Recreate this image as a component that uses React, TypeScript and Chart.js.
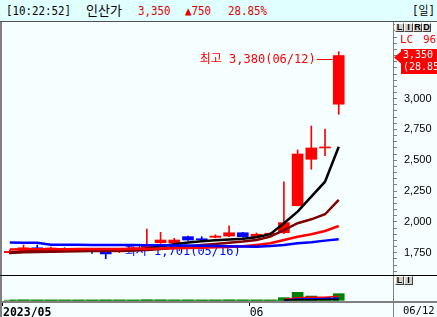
import React, { useEffect, useRef } from 'react';
import { Chart, registerables } from 'chart.js';

Chart.register(...registerables);

const timeLabel = '[10:22:52]';
const stockName = '인산가';
const periodLabel = '[일]';

const dates = ['05/04', '05/08', '05/09', '05/10', '05/11', '05/12', '05/15', '05/16', '05/17', '05/18', '05/19', '05/22', '05/23', '05/24', '05/25', '05/26', '05/30', '05/31', '06/01', '06/02', '06/05', '06/07', '06/08', '06/09', '06/12'];
const opens = [1750, 1760, 1790, 1780, 1785, 1775, 1770, 1760, 1757, 1780, 1790, 1831, 1831, 1880, 1860, 1875, 1885, 1912, 1882, 1900, 1912, 2131, 2508, 2600, 2955];
const highs = [1770, 1812, 1812, 1795, 1790, 1785, 1780, 1765, 1785, 1800, 1942, 1915, 1867, 1885, 1880, 1895, 1969, 1915, 1910, 1912, 2326, 2584, 2778, 2754, 3380];
const lows = [1740, 1755, 1770, 1770, 1765, 1760, 1745, 1701, 1750, 1770, 1785, 1825, 1825, 1850, 1845, 1870, 1880, 1875, 1875, 1895, 1905, 2130, 2427, 2537, 2873];
const closes = [1760, 1790, 1780, 1785, 1775, 1770, 1760, 1740, 1779, 1790, 1810, 1853, 1853, 1853, 1855, 1885, 1912, 1880, 1900, 1905, 1994, 2551, 2600, 2600, 3350];

const ma5 = [1748, 1758, 1766, 1772, 1776, 1778, 1775, 1767, 1766, 1770, 1785, 1802, 1818, 1833, 1843, 1851, 1857, 1863, 1875, 1900, 1989, 2083, 2205, 2326, 2610];
const ma10 = [1752, 1754, 1756, 1758, 1760, 1762, 1763, 1764, 1765, 1767, 1772, 1780, 1790, 1800, 1812, 1820, 1830, 1840, 1853, 1880, 1934, 1989, 2021, 2062, 2178];
const ma20 = [1776, 1777, 1777, 1778, 1778, 1779, 1779, 1780, 1780, 1781, 1783, 1785, 1787, 1789, 1791, 1794, 1797, 1802, 1813, 1826, 1853, 1880, 1899, 1926, 1967];
const ma60 = [1832, 1831, 1830, 1815, 1814, 1814, 1813, 1813, 1812, 1812, 1811, 1810, 1809, 1808, 1806, 1804, 1802, 1800, 1799, 1804, 1813, 1826, 1834, 1848, 1859];

const volumes = [40000, 90000, 60000, 45000, 40000, 35000, 45000, 80000, 55000, 45000, 160000, 120000, 60000, 70000, 45000, 55000, 120000, 70000, 60000, 50000, 1050000, 3200000, 1700000, 1200000, 2650000];
const volMaLong = [60000, 60000, 60000, 60000, 60000, 60000, 60000, 60000, 60000, 60000, 60000, 60000, 60000, 60000, 60000, 60000, 60000, 60000, 60000, 60000, 60000, 60000, 60000, 60000, 60000];
const volMa5 = [null, null, null, null, null, null, null, null, null, null, null, null, null, null, null, null, null, null, null, null, 280000, 1050000, 1200000, 1250000, 1600000];
const volMa20 = [null, null, null, null, null, null, null, null, null, null, null, null, null, null, null, null, null, null, null, null, 150000, 560000, 640000, 690000, 780000];
const volMa60 = [null, null, null, null, null, null, null, null, null, null, null, null, null, null, null, null, null, null, null, null, 80000, 220000, 260000, 280000, 320000];

const xAxisLabels = ['2023/05', '06'];
const monthStartIndex = [0, 18];
const priceLabelTicks = [1750, 2000, 2250, 2500, 2750, 3000];
const priceMinorStep = 50;
const lcLabel = 'LC';
const lcValue = '96';

const MONO = "'DejaVu Sans Mono', 'Noto Sans CJK KR', monospace";
const SANS = "'Liberation Sans', Arial, sans-serif";
const RED = '#ff0000';
const BLUE = '#0000ff';

const fmt = (n: number) => n.toLocaleString('en-US');

export default function App() {
  const canvasRef = useRef<HTMLCanvasElement | null>(null);
  const last = closes.length - 1;
  const change = closes[last] - closes[last - 1];
  const pct = (change / closes[last - 1]) * 100;

  useEffect(() => {
    const canvas = canvasRef.current;
    if (!canvas) return;
    const idx = dates.map((_, i) => i);
    const cColor = idx.map((i) => (closes[i] >= opens[i] ? RED : BLUE));
    const hiIdx = highs.indexOf(Math.max(...highs));
    const loIdx = lows.indexOf(Math.min(...lows));

    const zeroPad = (s: any) => {
      s.paddingTop = 0;
      s.paddingBottom = 0;
      s.paddingLeft = 0;
      s.paddingRight = 0;
    };

    const framePlugin = {
      id: 'frame',
      beforeDatasetsDraw(chart: any) {
        const { ctx, scales } = chart;
        const x = scales.x;
        const y = scales.y;
        ctx.save();
        ctx.font = `12px ${MONO}`;
        ctx.textBaseline = 'middle';
        const lx = x.getPixelForValue(loIdx) + 1;
        const ly = Math.round(y.getPixelForValue(lows[loIdx]) - 8) + 0.5;
        ctx.strokeStyle = BLUE;
        ctx.lineWidth = 1;
        ctx.beginPath();
        ctx.moveTo(lx, ly);
        ctx.lineTo(lx + 16, ly);
        ctx.stroke();
        ctx.fillStyle = BLUE;
        ctx.textAlign = 'left';
        ctx.fillText(`최저 ${fmt(lows[loIdx])}(${dates[loIdx]})`, lx + 18, ly);
        ctx.restore();
      },
      afterDatasetsDraw(chart: any) {
        const { ctx, scales } = chart;
        const x = scales.x;
        const y = scales.y;
        ctx.save();
        ctx.font = `12px ${MONO}`;
        ctx.textBaseline = 'middle';
        const hx = x.getPixelForValue(hiIdx) - 6;
        const hy = Math.round(y.getPixelForValue(highs[hiIdx]) + 7) + 0.5;
        ctx.strokeStyle = RED;
        ctx.lineWidth = 1;
        ctx.beginPath();
        ctx.moveTo(hx - 16, hy);
        ctx.lineTo(hx, hy);
        ctx.stroke();
        ctx.fillStyle = RED;
        ctx.textAlign = 'right';
        ctx.fillText(`최고 ${fmt(highs[hiIdx])}(${dates[hiIdx]})`, hx - 17, hy);
        ctx.restore();
      },
      afterDraw(chart: any) {
        const { ctx, chartArea, scales, width, height } = chart;
        const y = scales.y;
        const x = scales.x;
        ctx.save();
        ctx.fillStyle = '#808080';
        ctx.fillRect(0, 0, 2, height);
        ctx.fillRect(Math.round(chartArea.right), 0, 1, height);
        ctx.fillRect(0, Math.round(x.top) - 1, width, 2);
        ctx.fillStyle = '#000000';
        ctx.fillRect(0, Math.round(y.bottom), width, 1);
        const py = y.getPixelForValue(closes[last]);
        const r = chartArea.right + 1;
        ctx.fillStyle = RED;
        ctx.beginPath();
        ctx.moveTo(r, py + 2);
        ctx.lineTo(r + 7, py - 4);
        ctx.lineTo(r + 7, py + 8);
        ctx.closePath();
        ctx.fill();
        ctx.fillRect(r + 7, Math.round(py - 7), width - r - 7, 25);
        ctx.fillStyle = '#ffffff';
        ctx.font = `10px ${MONO}`;
        ctx.textAlign = 'left';
        ctx.textBaseline = 'middle';
        ctx.fillText(fmt(closes[last]), r + 9, py);
        ctx.fillText(`(${pct.toFixed(2)}%)`, r + 9, py + 12);
        ctx.restore();
      },
    };

    const lineDs = (data: any[], color: string, width: number, axis: string, order: number) => ({
      type: 'line' as const,
      data: data.map((v, i) => ({ x: i, y: v })),
      borderColor: color,
      borderWidth: width,
      pointRadius: 0,
      yAxisID: axis,
      order,
      spanGaps: false,
    });

    const chart = new Chart(canvas, {
      type: 'bar',
      data: {
        datasets: [
          lineDs(ma60, '#0000ff', 2.5, 'y', 0),
          lineDs(ma20, '#ff0000', 2.5, 'y', 1),
          lineDs(ma10, '#800000', 2.5, 'y', 2),
          lineDs(ma5, '#000000', 2.5, 'y', 3),
          {
            type: 'bar',
            data: idx.map((i) => ({ x: i, y: [opens[i], closes[i]] })),
            backgroundColor: cColor,
            barThickness: 11,
            minBarLength: 1,
            grouped: false,
            yAxisID: 'y',
            order: 5,
          },
          {
            type: 'bar',
            data: idx.map((i) => ({ x: i, y: [lows[i], highs[i]] })),
            backgroundColor: cColor,
            barThickness: 1,
            grouped: false,
            yAxisID: 'y',
            order: 6,
          },
          lineDs(volMa60, '#000000', 1.5, 'v', 2),
          lineDs(volMa20, '#0000ff', 1.5, 'v', 3),
          lineDs(volMa5, '#ff0000', 1.5, 'v', 3),
          {
            type: 'bar',
            data: idx.map((i) => ({ x: i, y: volumes[i] })),
            backgroundColor: '#008000',
            barThickness: 11,
            grouped: false,
            yAxisID: 'v',
            order: 7,
          },
          lineDs(volMaLong, '#008000', 1, 'v', 8),
        ] as any,
      },
      options: {
        responsive: false,
        animation: false,
        events: [],
        layout: { padding: { left: 2, right: 0, top: 0, bottom: 0 } },
        plugins: { legend: { display: false }, tooltip: { enabled: false } },
        scales: {
          x: {
            type: 'linear',
            position: 'bottom',
            offset: false,
            min: -0.57,
            max: 27.96,
            afterBuildTicks: (s: any) => {
              s.ticks = monthStartIndex.map((i) => ({ value: i - 0.5 }));
            },
            afterFit: (s: any) => {
              s.height = 15;
              zeroPad(s);
            },
            ticks: {
              autoSkip: false,
              maxRotation: 0,
              align: 'start',
              padding: 0,
              color: '#000000',
              font: (c: any) => ({ family: MONO, size: 11.5, weight: c.index === 0 ? 'bold' : 'normal' }),
              callback: (_v: any, i: number) => xAxisLabels[i],
            },
            grid: { drawOnChartArea: false, drawTicks: true, tickLength: 4, color: '#000000', offset: false },
            border: { display: false },
          },
          y: {
            type: 'linear',
            position: 'right',
            stack: 'main',
            stackWeight: 253,
            min: 1569,
            max: 3622,
            afterBuildTicks: (s: any) => {
              const t: any[] = [];
              for (let v = 1600; v <= 3600; v += priceMinorStep) t.push({ value: v });
              s.ticks = t;
            },
            afterFit: (s: any) => {
              s.width = 44;
              zeroPad(s);
            },
            ticks: {
              autoSkip: false,
              padding: 7,
              color: '#000000',
              font: { family: SANS, size: 11 },
              callback: (v: any) => (priceLabelTicks.includes(v) ? fmt(v) : ''),
            },
            grid: { drawOnChartArea: false, drawTicks: true, tickLength: 4, color: '#808080' },
            border: { display: false },
          },
          v: {
            type: 'linear',
            position: 'right',
            stack: 'main',
            stackWeight: 27,
            min: -680000,
            max: 10120000,
            afterFit: (s: any) => {
              s.width = 44;
              zeroPad(s);
            },
            ticks: { display: false },
            grid: { display: false },
            border: { display: false },
          },
        },
      } as any,
      plugins: [framePlugin],
    });
    return () => chart.destroy();
  }, []);

  const hs = (left: number, color: string): React.CSSProperties => ({
    position: 'absolute',
    left,
    top: 4,
    fontFamily: MONO,
    fontSize: 12,
    lineHeight: '15px',
    color,
    whiteSpace: 'nowrap',
    transform: 'scaleX(0.9)',
    transformOrigin: 'left',
  });

  const btn: React.CSSProperties = {
    boxSizing: 'border-box',
    width: 9,
    height: 9,
    background: '#d4d0c8',
    borderTop: '1px solid #ffffff',
    borderLeft: '1px solid #ffffff',
    borderRight: '1px solid #404040',
    borderBottom: '1px solid #404040',
    fontFamily: SANS,
    fontWeight: 'bold',
    fontSize: 9,
    lineHeight: '7px',
    textAlign: 'center',
    color: '#000',
    overflow: 'hidden',
  };

  return (
    <div style={{ position: 'fixed', left: 0, top: 0, width: 437, height: 317, background: '#f5ffff', overflow: 'hidden' }}>
      <div style={{ position: 'absolute', left: 0, top: 0, width: 437, height: 21, background: '#e0ffff', borderBottom: '1px solid #505050' }}>
        <span style={hs(6, '#000')}>{timeLabel}</span>
        <span style={{ ...hs(86, '#000'), fontSize: 13, transform: 'none', top: 3 }}>{stockName}</span>
        <span style={hs(138, '#e00000')}>{fmt(closes[last])}</span>
        <span style={hs(185, '#e00000')}>{'▲' + fmt(change)}</span>
        <span style={hs(228, '#e00000')}>{pct.toFixed(2) + '%'}</span>
        <span style={hs(412, '#000')}>{periodLabel}</span>
      </div>
      <div style={{ position: 'absolute', left: 0, top: 22, width: 437, height: 295 }}>
        <canvas ref={canvasRef} width={437} height={295} style={{ display: 'block', width: 437, height: 295 }} />
      </div>
      <div style={{ position: 'absolute', left: 395, top: 23, display: 'flex' }}>
        {['L', 'I', 'R', 'D'].map((c) => (
          <div key={c} style={btn}>{c}</div>
        ))}
      </div>
      <div style={{ position: 'absolute', left: 395, top: 276, display: 'flex' }}>
        {['L', 'I'].map((c) => (
          <div key={c} style={btn}>{c}</div>
        ))}
      </div>
      <span style={{ position: 'absolute', left: 400, top: 33, fontFamily: MONO, fontSize: 11, lineHeight: '13px', color: RED }}>{lcLabel}</span>
      <span style={{ position: 'absolute', left: 423, top: 33, fontFamily: MONO, fontSize: 11, lineHeight: '13px', color: RED }}>{lcValue}</span>
      <span style={{ position: 'absolute', left: 403, top: 304, fontFamily: MONO, fontSize: 10.5, lineHeight: '13px', color: '#000' }}>{dates[last]}</span>
    </div>
  );
}
